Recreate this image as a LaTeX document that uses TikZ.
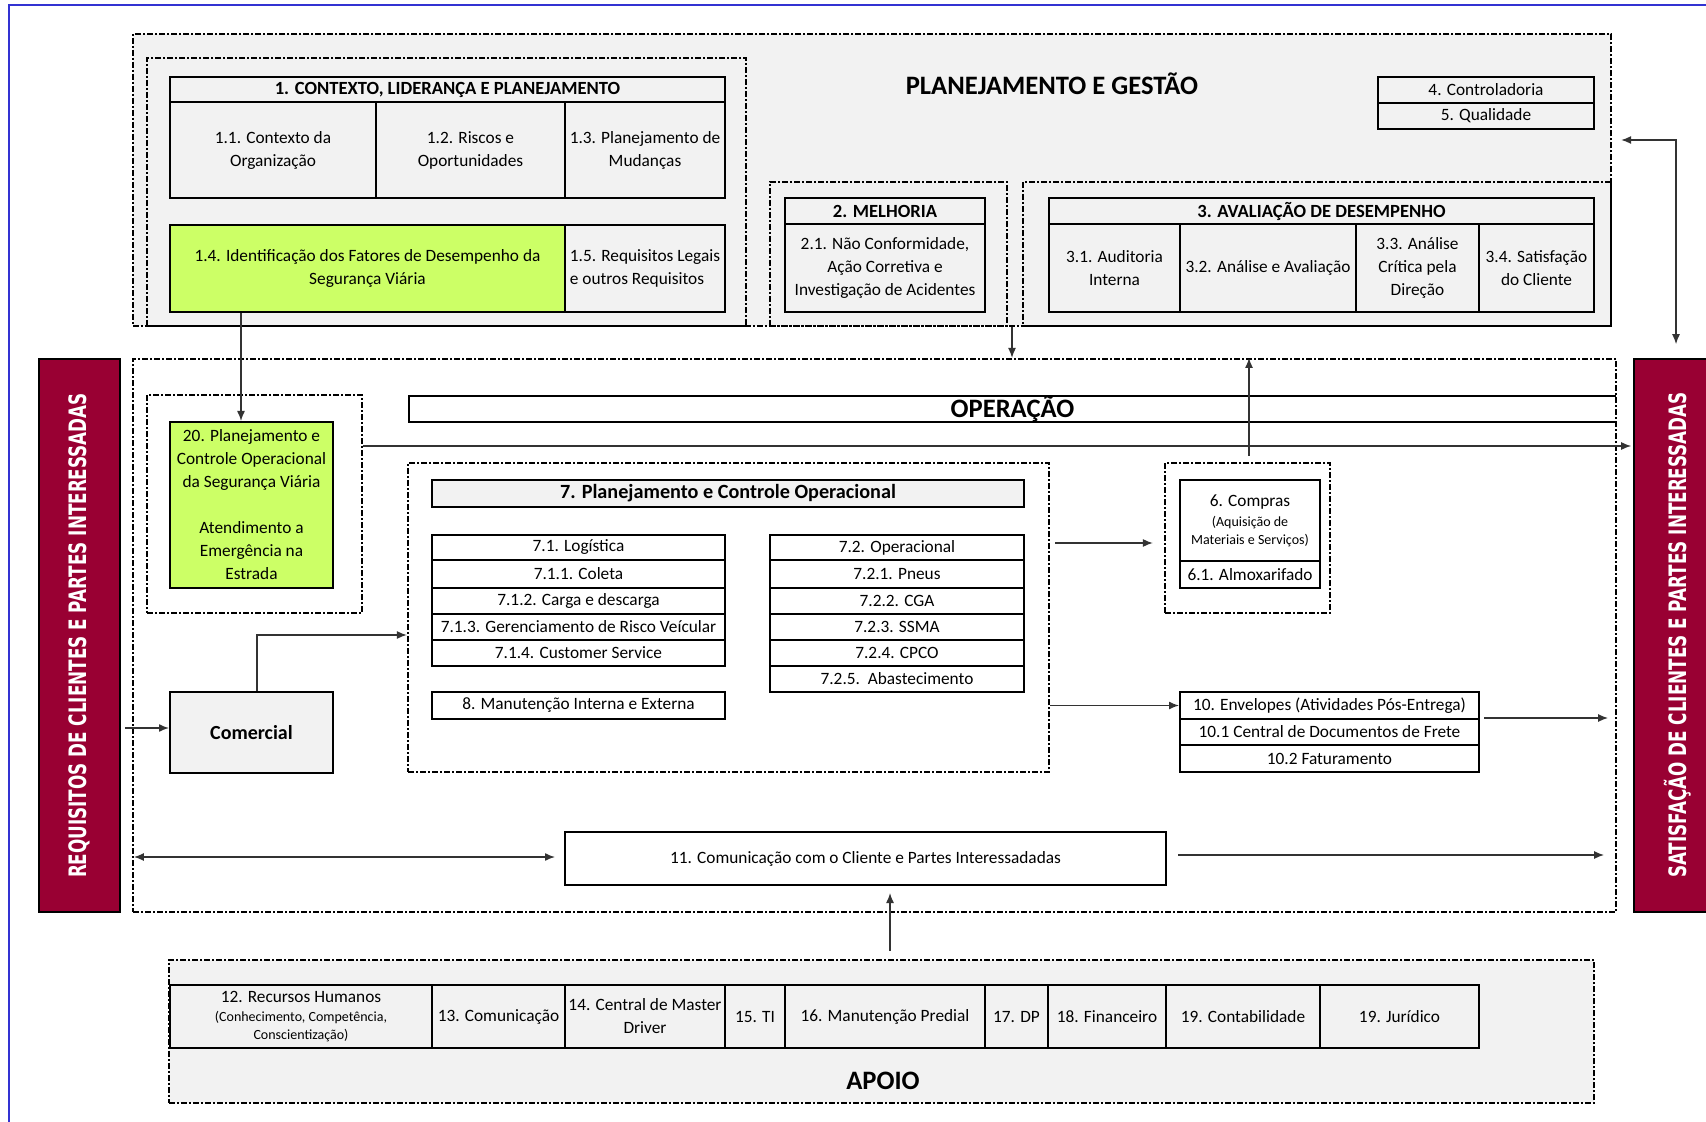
\documentclass[tikz,border=0pt]{standalone}
\usepackage{fontspec}
\setmainfont{Carlito}
\newfontfamily\barfont{DejaVu Sans}[FakeStretch=0.70]
\usetikzlibrary{positioning}
\usetikzlibrary{arrows.meta}
\definecolor{cinza}{RGB}{242,242,242}
\definecolor{verde}{RGB}{204,255,102}
\definecolor{vinho}{RGB}{153,0,51}
\definecolor{moldura}{RGB}{50,50,210}
\tikzset{caixa/.style n args = {4}{minimum width={(#3-#1)*0.5pt},
                                   minimum height={(#4-#2)*0.5pt},
                                   at={({(#1+#3)/2},{(#2+#4)/2})}}}
\tikzset{tracejado/.style = {draw, line width=1.1pt,
                             dash pattern=on 3pt off 1pt on 1pt off 1pt,
                             inner sep=0pt}}
\tikzset{celula/.style = {draw, line width=1pt, inner sep=0pt, align=center,
                          font=\fontsize{8.65}{11.5}\selectfont}}
\tikzset{titulo/.style = {celula, font=\fontsize{9.3}{11.5}\selectfont\bfseries}}
\tikzset{grande/.style = {inner sep=0pt, font=\fontsize{13.3}{15}\selectfont\bfseries}}
\tikzset{barra/.style = {draw, line width=0.8pt, fill=vinho, inner sep=0pt}}
\tikzset{textobarra/.style = {rotate=90, text=white,
                              font=\barfont\bfseries\fontsize{12}{14}\selectfont}}
\tikzset{seta/.style = {-{Latex[length=5pt,width=4pt]}, line width=0.7pt, black!80}}
\tikzset{setadupla/.style = {seta, {Latex[length=5pt,width=4pt]}-{Latex[length=5pt,width=4pt]}}}
\newcommand{\pequeno}{\fontsize{7}{8.5}\selectfont}

\begin{document}
\begin{tikzpicture}[x=0.5pt, y=-0.5pt]
  \useasboundingbox (0,0) rectangle (1706,1122);
  % frame
  \draw[moldura, line width=0.8pt] (9,1122) -- (9,5) -- (1706,5);

  % planejamento e gestao
  \node[tracejado, fill=cinza, caixa={133}{34}{1611}{326}] (pg) {};
  \node[grande] (pgtit) at (1052,84) {PLANEJAMENTO E GESTÃO};
  \node[tracejado, caixa={147}{58}{746}{326}] (ctx) {};
  \node[titulo, caixa={170}{77}{725}{102}] (c1) {1. CONTEXTO, LIDERANÇA E PLANEJAMENTO};
  \node[celula, caixa={170}{102}{376}{198}] (c11) {1.1. Contexto da\\Organização};
  \node[celula, caixa={376}{102}{565}{198}] (c12) {1.2. Riscos e\\Oportunidades};
  \node[celula, caixa={565}{102}{725}{198}] (c13) {1.3. Planejamento de\\Mudanças};
  \node[celula, fill=verde, caixa={170}{225}{565}{312}] (c14) {1.4. Identificação dos Fatores de Desempenho da\\Segurança Viária};
  \node[celula, align=left, caixa={565}{225}{725}{312}] (c15) {1.5. Requisitos Legais\\e outros Requisitos};

  \node[celula, caixa={1378}{77}{1594}{103}] (c4) {4. Controladoria};
  \node[celula, caixa={1378}{103}{1594}{129}] (c5) {5. Qualidade};

  \node[tracejado, caixa={770}{182}{1007}{326}] (mel) {};
  \node[titulo, caixa={785}{198}{985}{224}] (m2) {2. MELHORIA};
  \node[celula, caixa={785}{224}{985}{312}] (m21) {2.1. Não Conformidade,\\Ação Corretiva e\\Investigação de Acidentes};

  \node[tracejado, caixa={1023}{182}{1611}{326}] (ava) {};
  \node[titulo, caixa={1049}{198}{1594}{224}] (a3) {3. AVALIAÇÃO DE DESEMPENHO};
  \node[celula, caixa={1049}{224}{1180}{312}] (a31) {3.1. Auditoria\\Interna};
  \node[celula, caixa={1180}{224}{1356}{312}] (a32) {3.2. Análise e Avaliação};
  \node[celula, caixa={1356}{224}{1479}{312}] (a33) {3.3. Análise\\Crítica pela\\Direção};
  \node[celula, caixa={1479}{224}{1594}{312}] (a34) {3.4. Satisfação\\do Cliente};

  % side bars
  \node[barra, caixa={39}{359}{120}{912}] (req) {};
  \node[textobarra] (reqtxt) at (req.center) {REQUISITOS DE CLIENTES E PARTES INTERESSADAS};
  \node[barra, caixa={1634}{359}{1722}{912}] (sat) {};
  \node[textobarra] (sattxt) at (1678,635) {SATISFAÇÃO DE CLIENTES E PARTES INTERESSADAS};

  % operacao
  \node[tracejado, caixa={133}{359}{1616}{912}] (op) {};
  \node[grande, caixa={409}{396}{1616}{422}] (opt) {OPERAÇÃO};
  \draw[line width=1pt] (opt.north east) -- (opt.north west) -- (opt.south west) -- (opt.south east);

  \node[tracejado, caixa={147}{395}{362}{613}] (s20) {};
  \node[celula, fill=verde, caixa={170}{422}{333}{588}] (b20) {20. Planejamento e\\Controle Operacional\\da Segurança Viária\\[11.5pt]Atendimento a\\Emergência na\\Estrada};
  \node[celula, fill=cinza, font=\fontsize{10}{12}\selectfont\bfseries,
        caixa={170}{692}{333}{773}] (com) {Comercial};

  \node[tracejado, caixa={408}{463}{1049}{772}] (p7) {};
  \node[celula, fill=cinza, font=\fontsize{10.1}{12}\selectfont\bfseries,
        caixa={432}{480}{1024}{507}] (p7h) {7. Planejamento e Controle Operacional};
  \node[celula, caixa={432}{535}{725}{560}] (l1) {7.1. Logística};
  \node[celula, caixa={432}{560}{725}{588}] (l2) {7.1.1. Coleta};
  \node[celula, caixa={432}{588}{725}{614}] (l3) {7.1.2. Carga e descarga};
  \node[celula, caixa={432}{614}{725}{640}] (l4) {7.1.3. Gerenciamento de Risco Veícular};
  \node[celula, caixa={432}{640}{725}{666}] (l5) {7.1.4. Customer Service};
  \node[celula, caixa={432}{692}{725}{719}] (m8) {8. Manutenção Interna e Externa};
  \node[celula, caixa={770}{535}{1024}{560}] (r1) {7.2. Operacional};
  \node[celula, caixa={770}{560}{1024}{588}] (r2) {7.2.1. Pneus};
  \node[celula, caixa={770}{588}{1024}{614}] (r3) {7.2.2. CGA};
  \node[celula, caixa={770}{614}{1024}{640}] (r4) {7.2.3. SSMA};
  \node[celula, caixa={770}{640}{1024}{666}] (r5) {7.2.4. CPCO};
  \node[celula, caixa={770}{666}{1024}{692}] (r6) {7.2.5.\ \ Abastecimento};

  \node[tracejado, caixa={1165}{463}{1330}{613}] (cmp) {};
  \node[celula, caixa={1180}{480}{1320}{561}] (c6) {6. Compras\\[-1.5pt]{\pequeno(Aquisição de}\\[-2.5pt]{\pequeno Materiais e Serviços)}};
  \node[celula, caixa={1180}{561}{1320}{588}] (c61) {6.1. Almoxarifado};

  \node[celula, caixa={1180}{692}{1479}{719}] (e10) {10. Envelopes (Atividades Pós-Entrega)};
  \node[celula, caixa={1180}{719}{1479}{745}] (e101) {10.1 Central de Documentos de Frete};
  \node[celula, caixa={1180}{745}{1479}{772}] (e102) {10.2 Faturamento};

  \node[celula, caixa={565}{832}{1166}{885}] (c11c) {11. Comunicação com o Cliente e Partes Interessadadas};

  % apoio
  \node[tracejado, fill=cinza, caixa={169}{960}{1594}{1103}] (apo) {};
  \node[grande] (apotit) at (883,1081) {APOIO};
  \node[celula, caixa={170}{985}{432}{1048}] (s12) {12. Recursos Humanos\\[-2pt]{\pequeno(Conhecimento, Competência,}\\[-2.5pt]{\pequeno Conscientização)}};
  \node[celula, caixa={432}{985}{565}{1048}] (s13) {13. Comunicação};
  \node[celula, caixa={565}{985}{725}{1048}] (s14) {14. Central de Master\\Driver};
  \node[celula, caixa={725}{985}{785}{1048}] (s15) {15. TI};
  \node[celula, caixa={785}{985}{985}{1048}] (s16) {16. Manutenção Predial};
  \node[celula, caixa={985}{985}{1048}{1048}] (s17) {17. DP};
  \node[celula, caixa={1048}{985}{1166}{1048}] (s18) {18. Financeiro};
  \node[celula, caixa={1166}{985}{1320}{1048}] (s19) {19. Contabilidade};
  \node[celula, caixa={1320}{985}{1479}{1048}] (s19j) {19. Jurídico};

  % connectors
  \coordinate (x14) at (241,0);
  \coordinate (xmel) at (1012,0);
  \coordinate (xsat) at (1676,140);
  \coordinate (xcmp) at (1249,0);
  \coordinate (y446) at (0,446);
  \coordinate (y728) at (0,728);
  \coordinate (k7) at (257,635);
  \coordinate (y543) at (0,543);
  \coordinate (y718) at (0,718);
  \coordinate (y857) at (0,857);
  \coordinate (y855) at (0,855);
  \coordinate (x890) at (890,0);

  \draw[seta] (c14.south -| x14) -- (b20.north -| x14);
  \draw[seta] (pg.south -| xmel) -- (op.north -| xmel);
  \draw[setadupla, shorten <=7pt, shorten >=4.5pt] (sat.north -| xsat) |- (pg.east |- xsat);
  \draw[seta, shorten <=3pt] (cmp.north -| xcmp) -- (op.north -| xcmp);
  \draw[seta, shorten >=1pt] (s20.east |- y446) -- (sat.west |- y446);
  \draw[seta, shorten <=2pt] (req.east |- y728) -- (com.west |- y728);
  \draw[seta] (com.north -| k7) |- (p7.west |- k7);
  \draw[seta, shorten <=2.5pt, shorten >=5.5pt] (p7.east |- y543) -- (cmp.west |- y543);
  \draw[seta] (p7.east |- e10.west) -- (e10.west);
  \draw[seta, shorten <=2pt, shorten >=4.5pt] (e10.east |- y718) -- (op.east |- y718);
  \draw[setadupla, shorten <=1pt, shorten >=4.5pt] (op.west |- y857) -- (c11c.west |- y857);
  \draw[seta, shorten <=5.5pt, shorten >=6.5pt] (c11c.east |- y855) -- (op.east |- y855);
  \draw[seta, shorten <=4pt, shorten >=3.5pt] (apo.north -| x890) -- (c11c.south -| x890);
\end{tikzpicture}
\end{document}
